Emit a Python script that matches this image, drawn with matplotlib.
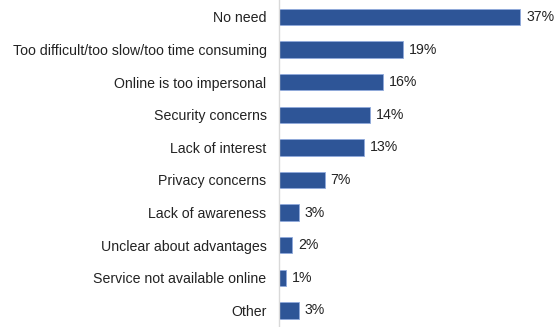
import numpy as np
import matplotlib.pyplot as plt

plt.rcParams['font.family'] = ['Liberation Sans', 'DejaVu Sans']

reasons = ['No need', 'Too difficult/too slow/too time consuming', 'Online is too impersonal',
           'Security concerns', 'Lack of interest', 'Privacy concerns', 'Lack of awareness',
           'Unclear about advantages', 'Service not available online', 'Other']
pct = [37, 19, 16, 14, 13, 7, 3, 2, 1, 3]

fig = plt.figure(figsize=(5.57, 3.27), dpi=100)
ax = fig.add_axes([0.501, 0.0, 0.499, 1.0])

y = np.arange(len(reasons))
ax.barh(y, pct, height=0.5, color='#2E5597', edgecolor='#8FAADC', linewidth=0.6)

for yi, v in zip(y, pct):
    ax.text(v + 0.9, yi, f'{v}%', va='center', ha='left', fontsize=10.2, color='#222222')

ax.set_yticks(y)
ax.set_yticklabels(reasons, fontsize=10.2, color='#222222')
ax.tick_params(axis='y', length=0, pad=9)
ax.set_xticks([])
ax.set_xlim(0, 42.6)
ax.set_ylim(9.51, -0.52)

for s in ['top', 'right', 'bottom']:
    ax.spines[s].set_visible(False)
ax.spines['left'].set_color('#D9D9D9')
ax.spines['left'].set_linewidth(1)

fig.savefig('out.png', dpi=100)
